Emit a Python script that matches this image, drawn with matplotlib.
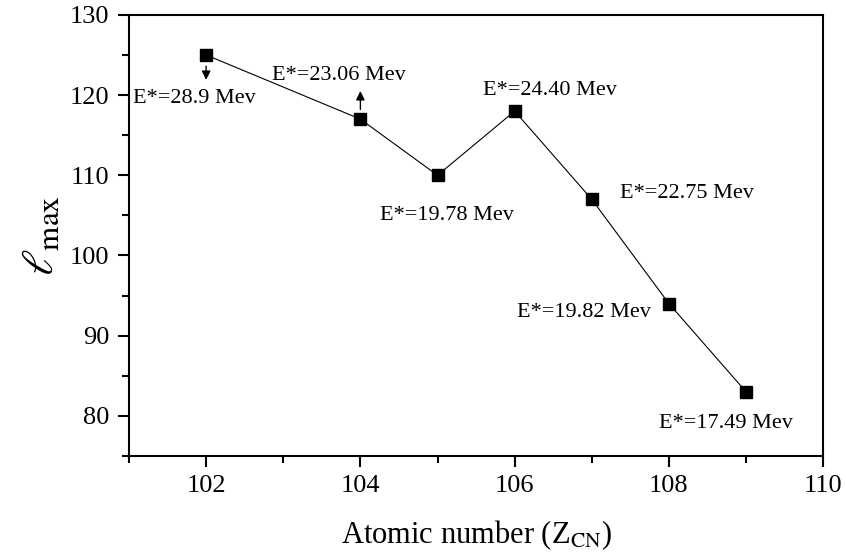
import matplotlib.pyplot as plt
from matplotlib.ticker import MultipleLocator

plt.rcParams['font.family'] = ['Liberation Serif', 'DejaVu Serif']
plt.rcParams['mathtext.fontset'] = 'stix'

# Atomic number of the compound nucleus vs. maximum angular momentum
z_cn = [102, 104, 105, 106, 107, 108, 109]
l_max = [125, 117, 110, 118, 107, 94, 83]
e_star = ['28.9', '23.06', '19.78', '24.40', '22.75', '19.82', '17.49']

# label anchors (left edge, vertical centre) in data units
label_xy = [(101.05, 119.6), (102.85, 122.5), (104.26, 105.0), (105.59, 120.6),
            (107.37, 107.75), (106.03, 92.9), (107.87, 79.0)]

fig = plt.figure(figsize=(8.46, 5.52), dpi=100)
ax = fig.add_axes([0.1525, 0.174, 0.8205, 0.799])

ax.plot(z_cn, l_max, color='black', lw=0.8, marker='s', ms=8.5,
        mfc='black', mec='black')

for txt, (tx, ty) in zip(e_star, label_xy):
    ax.text(tx, ty, f'E*={txt} Mev', fontsize=16, ha='left', va='center')

# small arrows pointing from points 102 and 104 toward their labels
ax.annotate('', xy=(z_cn[0], 121.9), xytext=(z_cn[0], 123.6),
            arrowprops=dict(arrowstyle='-|>', color='black', lw=1,
                            mutation_scale=13, shrinkA=0, shrinkB=0))
ax.annotate('', xy=(z_cn[1], 120.5), xytext=(z_cn[1], 118.2),
            arrowprops=dict(arrowstyle='-|>', color='black', lw=1,
                            mutation_scale=13, shrinkA=0, shrinkB=0))

ax.set_xlim(101, 110)
ax.set_ylim(75, 130)
ax.xaxis.set_major_locator(MultipleLocator(2))
ax.xaxis.set_minor_locator(MultipleLocator(1))
ax.yaxis.set_major_locator(MultipleLocator(10))
ax.yaxis.set_minor_locator(MultipleLocator(5))

ax.tick_params(which='both', direction='out', width=1.5, labelsize=19)
ax.tick_params(which='major', length=8, pad=6)
ax.tick_params(which='minor', length=5)
for sp in ax.spines.values():
    sp.set_linewidth(1.5)

ax.set_xlabel(r'Atomic number (Z$_{\rm CN}$)', fontsize=22, labelpad=15)
ax.set_ylabel(r'$\ell_{\rm max}$', fontsize=32, labelpad=6)

fig.savefig('out.png', dpi=100)
